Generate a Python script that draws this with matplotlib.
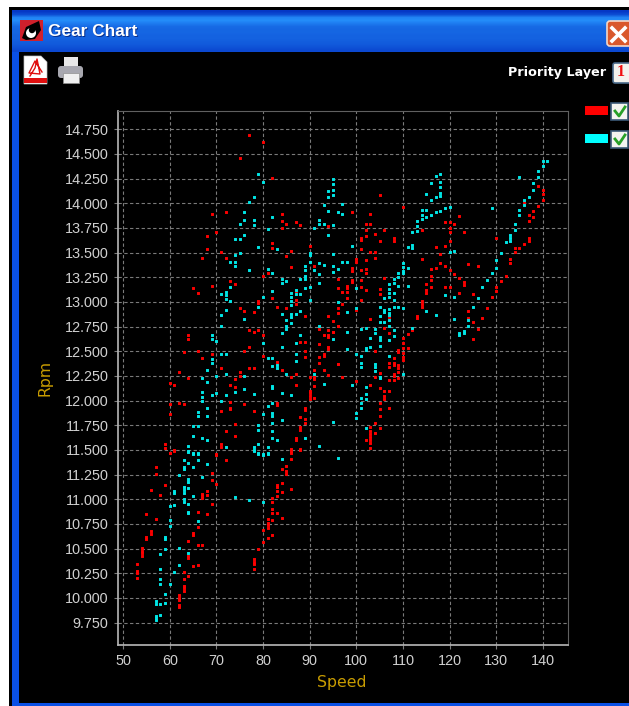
#!/usr/bin/env python3
"""Gear chart window: rpm against speed for two layers, black background."""

import matplotlib
matplotlib.use('Agg')
import matplotlib.pyplot as plt
import numpy as np
from matplotlib.patches import Rectangle, FancyBboxPatch, Polygon, Circle

OUTPUT_FILE = "out.png"
W, H = 629, 706
DPI = 100

COLOR_RED = "#ff0000"
COLOR_CYAN = "#00e8e8"
COLOR_GOLD = "#c89c00"
COLOR_GRID = "#7a7a7a"
COLOR_TICK = "#d0d0d0"

x_ticks = [50, 60, 70, 80, 90, 100, 110, 120, 130, 140]
y_ticks = [9750, 10000, 10250, 10500, 10750, 11000, 11250, 11500, 11750, 12000,
           12250, 12500, 12750, 13000, 13250, 13500, 13750, 14000, 14250, 14500, 14750]
y_labels = ["9.750", "10.000", "10.250", "10.500", "10.750", "11.000", "11.250",
            "11.500", "11.750", "12.000", "12.250", "12.500", "12.750", "13.000",
            "13.250", "13.500", "13.750", "14.000", "14.250", "14.500", "14.750"]

# (speed, rpm)
red_points = [
    (57, 11328), (57, 11257), (56, 11098), (59, 11145), (58, 11044), (55, 10845), (57, 10800),
    (56, 10680), (56, 10645), (55, 10620), (55, 10600), (54, 10503), (54, 10476), (54, 10453),
    (54, 10426), (53, 10348), (53, 10267), (53, 10247), (53, 10206), (63, 10260), (64, 10223),
    (63, 10189), (63, 10122), (63, 10095), (63, 10074), (62, 10027), (62, 10003), (62, 9980),
    (62, 9926), (62, 9905), (65, 10318), (66, 10334), (64, 10426), (64, 10405), (64, 10578),
    (66, 10534), (67, 10534), (65, 10662), (65, 10642), (66, 10716), (66, 10875), (68, 10845),
    (69, 10956), (67, 11057), (67, 11034), (67, 11013), (68, 11084), (68, 11040), (69, 11199),
    (69, 11270), (70, 11159), (70, 11456), (72, 11398), (60, 11470), (61, 11497),
    (78, 10392), (78, 10368), (78, 10341), (78, 10290), (79, 10497), (80, 10571), (81, 10605),
    (80, 10686), (81, 10703), (81, 10736), (81, 10763), (81, 10797), (82, 10642), (82, 10790),
    (84, 10814), (82, 10858), (82, 10905), (83, 10858), (82, 10973), (82, 11013), (83, 11030),
    (83, 11084), (83, 11125), (83, 11145), (84, 11071), (84, 11169), (86, 11101), (85, 11257),
    (85, 11284), (84, 11304), (85, 11341), (86, 11412), (86, 11490), (88, 11506),
    (68, 13537), (71, 13510), (67, 13449), (72, 13449), (82, 13601), (82, 13547), (86, 13520),
    (85, 13466), (90, 13571), (86, 13351), (91, 13368), (80, 13267), (81, 13297), (73, 13209),
    (74, 13182), (69, 13166), (65, 13139), (66, 13095), (87, 13115), (82, 13115), (82, 13041),
    (79, 13014), (79, 12993), (87, 13020), (87, 12976), (83, 12953), (85, 12936), (75, 12936),
    (76, 12912), (78, 12895), (89, 12858), (77, 12713), (78, 12696), (79, 12713), (80, 12666),
    (64, 12669), (64, 12625), (92, 12726), (93, 12669), (94, 12713), (94, 12666), (94, 12642),
    (95, 12696), (94, 12858), (96, 12757), (88, 12598), (89, 12598), (92, 12574), (94, 12547),
    (94, 12527), (77, 12541), (76, 12503), (66, 12503), (63, 12487), (69, 12470), (89, 12507),
    (89, 12446), (80, 12456), (92, 12446), (93, 12470), (93, 12453), (67, 12429), (83, 12389),
    (92, 12385), (96, 12372), (71, 12328), (77, 12328), (78, 12328), (93, 12311), (84, 12311),
    (91, 12311), (75, 12287), (62, 12287), (87, 12270), (86, 12237), (75, 12250), (74, 12216),
    (64, 12230), (90, 12237), (91, 12237), (91, 12216), (94, 12257), (60, 12176), (61, 12155),
    (73, 12155), (74, 12135), (87, 12155), (91, 12149), (90, 12101), (90, 12074), (90, 12041),
    (90, 12014), (91, 12030), (83, 11980), (83, 11950), (76, 11963), (73, 11990), (73, 11929),
    (73, 11912), (62, 11973), (63, 11960), (60, 11963), (60, 11862), (71, 11889), (78, 11889),
    (89, 11929), (89, 11905), (88, 11835), (89, 11814), (89, 11770), (88, 11730), (88, 11703),
    (74, 11760), (72, 11689), (74, 11645), (87, 11618), (87, 11601), (59, 11564), (59, 11517),
    (61, 11493), (60, 11466), (71, 11561), (71, 11527), (70, 11450), (86, 11507), (86, 11473),
    (88, 11500),
    (101, 13625), (105, 13618), (108, 13618), (101, 13534), (103, 13503), (104, 13503),
    (104, 13449), (100, 13432), (100, 13402), (102, 13422), (99, 13348), (99, 13318), (101, 13321),
    (102, 13334), (102, 13290), (96, 13236), (99, 13223), (99, 13206), (101, 13223), (106, 13247),
    (98, 13166), (98, 13139), (98, 13105), (97, 13105), (96, 13139), (101, 13152), (102, 13122),
    (101, 13020), (105, 13135), (105, 13081), (98, 13037), (97, 12980), (96, 12936), (96, 12892),
    (100, 12919), (103, 12828), (95, 12807), (96, 12757), (95, 12696), (107, 12851), (106, 12740),
    (107, 12682), (111, 12676), (112, 12716), (110, 12632), (110, 12588), (110, 12537), (111, 12537),
    (109, 12514), (109, 12487), (104, 12507), (110, 12480), (110, 12446), (110, 12412), (108, 12429),
    (107, 12385), (107, 12338), (108, 12385), (108, 12358), (109, 12362), (109, 12328), (109, 12294),
    (96, 12368), (104, 12243), (105, 12284), (108, 12270), (108, 12250), (107, 12213), (108, 12213),
    (109, 12233), (97, 12237), (100, 12199), (103, 12155), (105, 12132), (106, 12101), (107, 12101),
    (106, 12047), (106, 12020), (105, 11973), (105, 11916), (107, 11929), (105, 11845), (104, 11774),
    (105, 11720), (103, 11730), (103, 11696), (103, 11662), (103, 11628), (103, 11595), (103, 11574),
    (102, 11605), (104, 11676), (103, 11517),
    (114, 13432), (117, 13561), (119, 13568), (120, 13618), (118, 13490), (116, 13334), (117, 13348),
    (118, 13392), (119, 13365), (120, 13324), (121, 13284), (116, 13267), (116, 13223), (115, 13182),
    (116, 13152), (115, 13122), (115, 13095), (119, 13152), (120, 13152), (122, 13247), (123, 13206),
    (123, 13169), (122, 13095), (124, 13388), (126, 13365), (125, 13081), (129, 13051), (114, 13010),
    (114, 12980), (114, 12953), (113, 12861), (113, 12834), (124, 12912), (128, 12939), (124, 12841),
    (125, 12797), (127, 12834), (126, 12730), (125, 12628), (130, 13149), (130, 13112), (131, 13209),
    (132, 13260), (133, 13432), (133, 13392), (134, 13544), (134, 13510), (135, 13544), (136, 13591),
    (137, 13618),
    (77, 14689), (80, 14618), (75, 14463), (82, 14260), (69, 13895), (72, 13909), (84, 13892),
    (84, 13821), (85, 13791), (87, 13811), (88, 13780), (84, 13747), (70, 13709), (68, 13666),
    (105, 14081), (99, 13912), (103, 13895), (110, 13963), (102, 13794), (103, 13794), (94, 13767),
    (102, 13726), (102, 13672), (104, 13692), (106, 13733), (101, 13645), (114, 13726), (119, 13807),
    (120, 13811), (121, 13794), (122, 13868), (120, 13750), (120, 13713), (123, 13706), (140, 14135),
    (140, 14098), (140, 14030), (139, 14179), (139, 13976), (136, 14014), (138, 13922), (138, 13861),
    (137, 13882), (137, 13821), (130, 13645), (137, 13645), (108, 13645),
]

cyan_points = [
    (57, 9818), (57, 9794), (57, 9774), (58, 9828), (57, 9963), (57, 9936), (58, 9936), (59, 9949),
    (59, 10037), (58, 10138), (58, 10189), (60, 10138), (58, 10294), (61, 10263), (62, 10331),
    (58, 10446), (59, 10490), (62, 10507), (64, 10459), (59, 10618), (59, 10601), (60, 10733),
    (60, 10790), (66, 10774), (64, 10870), (64, 10858), (60, 10926), (61, 10942), (64, 10956),
    (63, 11000), (63, 10973), (65, 11030), (63, 11128), (63, 11094), (63, 11060), (61, 11088),
    (61, 11067), (64, 11115), (64, 11203), (64, 11176), (62, 11250), (67, 11226), (63, 11398),
    (63, 11331), (63, 11311), (64, 11368), (65, 11328), (66, 11398), (68, 11355), (64, 11486),
    (65, 11466), (66, 11466), (74, 11027), (77, 10990), (80, 10973), (84, 11412), (78, 11496),
    (79, 11470), (80, 11456), (81, 11470), (96, 11420),
    (79, 13554), (83, 13537), (90, 13493), (90, 13480), (95, 13483), (75, 13493), (74, 13480),
    (73, 13409), (74, 13409), (74, 13365), (77, 13324), (90, 13405), (89, 13365), (89, 13324),
    (92, 13392), (93, 13378), (91, 13321), (95, 13365), (95, 13307), (96, 13334), (92, 13280),
    (81, 13334), (82, 13290), (89, 13267), (89, 13230), (88, 13230), (92, 13196), (84, 13230),
    (84, 13196), (85, 13209), (73, 13152), (90, 13149), (89, 13139), (87, 13122), (86, 13095),
    (88, 13081), (82, 13108), (72, 13101), (72, 13071), (72, 13034), (71, 13078), (73, 13010),
    (80, 13054), (90, 13024), (86, 13047), (86, 13014), (86, 12970), (87, 13078), (96, 12997),
    (79, 12953), (72, 12922), (71, 12872), (76, 12828), (84, 12878), (86, 12878), (86, 12851),
    (87, 12882), (88, 12912), (85, 12814), (86, 12784), (85, 12757), (85, 12723), (84, 12682),
    (92, 12757), (71, 12757), (69, 12669), (69, 12625), (70, 12608), (80, 12581), (88, 12669),
    (87, 12585), (84, 12541), (71, 12470), (72, 12470), (69, 12419), (69, 12385), (81, 12429),
    (82, 12429), (87, 12470), (87, 12399), (68, 12314), (82, 12355), (83, 12362), (83, 12328),
    (72, 12270), (70, 12247), (67, 12233), (68, 12186), (85, 12270), (91, 12270), (76, 12253),
    (93, 12172), (82, 12149), (82, 12129), (76, 12115), (74, 12085), (67, 12091), (70, 12074),
    (69, 12061), (72, 12061), (78, 12071), (84, 12074), (86, 12061), (67, 12034), (67, 12000),
    (71, 12000), (82, 11973), (81, 11946), (68, 11929), (66, 11879), (66, 11845), (68, 11845),
    (80, 11862), (82, 11872), (82, 11845), (84, 11807), (82, 11777), (95, 11784), (65, 11743),
    (66, 11743), (79, 11750), (79, 11703), (65, 11645), (67, 11622), (68, 11605), (82, 11693),
    (82, 11618), (83, 11601), (89, 11618), (64, 11540), (72, 11534), (78, 11534), (78, 11493),
    (79, 11561), (81, 11534), (92, 11544), (64, 11476), (65, 11460), (66, 11460), (79, 11460),
    (80, 11446), (81, 11460),
    (99, 13564), (111, 13557), (112, 13578), (112, 13544), (132, 13605), (133, 13618), (131, 13493),
    (120, 13503), (121, 13517), (97, 13409), (98, 13409), (110, 13392), (110, 13358), (110, 13318),
    (110, 13290), (111, 13348), (109, 13290), (109, 13250), (108, 13230), (108, 13196), (107, 13182),
    (109, 13166), (111, 13166), (100, 13139), (107, 13128), (107, 13095), (108, 13095), (106, 13037),
    (107, 13047), (108, 13024), (105, 12953), (106, 12919), (106, 12895), (107, 12926), (107, 12892),
    (107, 12868), (108, 12946), (109, 12946), (110, 12939), (98, 12895), (100, 12936), (105, 12861),
    (107, 12818), (105, 12794), (106, 12797), (107, 12757), (102, 12740), (101, 12726), (104, 12723),
    (104, 12682), (98, 12696), (95, 12625), (108, 12713), (107, 12615), (108, 12655), (103, 12639),
    (105, 12649), (105, 12615), (102, 12537), (102, 12514), (103, 12541), (105, 12551), (98, 12527),
    (100, 12470), (101, 12456), (107, 12453), (101, 12385), (101, 12345), (104, 12368), (104, 12345),
    (104, 12297), (105, 12243), (105, 12226), (110, 12270), (99, 12159), (102, 12142), (102, 12071),
    (101, 12027), (102, 12014), (101, 11973), (101, 11926), (100, 11875), (100, 11828), (102, 11720),
    (112, 12737), (115, 12912), (117, 12868), (119, 13068), (121, 13051), (126, 13037), (125, 12953),
    (121, 12828), (124, 12818), (124, 12757), (123, 12709), (123, 12682), (122, 12682), (122, 12665),
    (127, 13149), (128, 13223), (129, 13290), (130, 13426), (130, 13348),
    (79, 14294), (80, 14220), (78, 14064), (77, 14010), (76, 13909), (75, 13794), (76, 13834),
    (78, 13834), (78, 13780), (82, 13865), (81, 13740), (91, 13750), (92, 13834), (92, 13794),
    (76, 13679), (74, 13642), (75, 13642),
    (95, 14250), (95, 14196), (94, 14122), (95, 14135), (95, 14088), (94, 14064), (93, 13986),
    (97, 13993), (94, 13922), (96, 13909), (97, 13895), (93, 13794), (95, 13780), (94, 13679),
    (117, 14280), (118, 14294), (116, 14206), (118, 14220), (118, 14165), (115, 14091), (118, 14105),
    (118, 14078), (117, 14064), (116, 14034), (120, 13966), (119, 13949), (118, 13922), (117, 13909),
    (116, 13885), (115, 13865), (114, 13936), (115, 13936), (114, 13885), (114, 13838), (113, 13824),
    (113, 13767), (113, 13723), (112, 13710), (129, 13953), (135, 14263), (139, 14331), (139, 14263),
    (140, 14432), (141, 14432), (140, 14378), (138, 14206), (138, 14135), (137, 14064), (136, 14030),
    (136, 13983), (135, 13936), (135, 13878), (134, 13794), (134, 13733), (133, 13682), (133, 13645),
]


def draw_window(c):
    """Window frame, title bar and toolbar, in pixel coordinates."""
    c.add_patch(Rectangle((0, 0), W, H, fc='white', ec='none'))
    c.add_patch(Rectangle((9, 7), W - 9, H - 7, fc='black', ec='none'))

    # blue frame
    c.add_patch(Rectangle((12, 10), W - 12, H - 10, fc='#0a50e6', ec='none'))
    grad = np.array([0.0, 0.25, 0.9, 1.0, 0.8, 0.6, 0.55, 0.55, 0.5, 0.5, 0.45, 0.4, 0.3, 0.2]).reshape(-1, 1)
    grad_rgb = np.zeros((len(grad), 1, 3))
    grad_rgb[..., 0] = 0.02 + 0.12 * grad
    grad_rgb[..., 1] = 0.22 + 0.33 * grad
    grad_rgb[..., 2] = 0.78 + 0.20 * grad
    c.imshow(grad_rgb, extent=(12, W, 52, 10), aspect='auto', zorder=1, interpolation='bilinear')
    c.add_patch(Rectangle((19, 52), W - 19, 651, fc='black', ec='none', zorder=2))

    # app icon
    c.add_patch(Rectangle((20, 20), 23, 21, fc='#d0202c', ec='none', zorder=3))
    c.add_patch(Polygon([(22, 38), (26, 27), (39, 21), (41, 30), (35, 39), (26, 40)],
                        fc='black', ec='none', zorder=4))
    c.add_patch(Circle((31, 33), 5, fc='white', ec='none', zorder=5))
    c.add_patch(Circle((32, 30), 3.2, fc='black', ec='none', zorder=6))

    # title, with a small shadow
    c.text(48.8, 32.3, "Gear Chart", color='#08308c', fontsize=12.4, family='Liberation Sans',
           fontweight='bold', va='center', zorder=6)
    c.text(48, 31.5, "Gear Chart", color='white', fontsize=12.4, family='Liberation Sans',
           fontweight='bold', va='center', zorder=7)

    # close button
    c.add_patch(FancyBboxPatch((607, 21), 30, 25, boxstyle="round,pad=0,rounding_size=3",
                               fc='#d9582c', ec='#f4d8c8', lw=1.2, zorder=3))
    c.plot([612, 625], [28, 41], color='white', lw=2.6, zorder=4)
    c.plot([625, 612], [28, 41], color='white', lw=2.6, zorder=4)

    # pdf icon
    c.add_patch(Polygon([(24, 56), (41, 56), (47, 62), (47, 84), (24, 84)],
                        fc='white', ec='#c0c0c0', lw=0.5, zorder=3))
    c.add_patch(Rectangle((24, 78), 23, 5, fc='#e01010', ec='none', zorder=4))
    c.plot([30, 35, 37, 40, 29, 35, 42], [76, 68, 59, 74, 73, 61, 72], color='#e01010', lw=1.0, zorder=4)

    # printer icon
    c.add_patch(Rectangle((64, 57), 14, 10, fc='#e8e8e8', ec='none', zorder=3))
    c.add_patch(FancyBboxPatch((58, 66), 25, 12, boxstyle="round,pad=0,rounding_size=3",
                               fc='#a8a8b0', ec='none', zorder=4))
    c.add_patch(Rectangle((63, 73), 16, 10, fc='#f0f0f0', ec='#909090', lw=0.5, zorder=5))

    # priority layer
    c.text(606, 72.5, "Priority Layer", color='white', fontsize=9.2, fontweight='bold',
           family='DejaVu Sans', ha='right', va='center', zorder=5)
    c.add_patch(FancyBboxPatch((613, 63), 20, 20, boxstyle="round,pad=0,rounding_size=2",
                               fc='#f4f2ec', ec='#4a6a8a', lw=1.2, zorder=3))
    c.text(620.5, 72.5, "1", color='#f01010', fontsize=11.5, fontweight='bold',
           family='Liberation Serif', ha='center', va='center', zorder=5)

    # layer switches
    for y0, col in ((106, '#ff0000'), (134, '#00ffff')):
        c.add_patch(Rectangle((585, y0), 23, 9, fc=col, ec='none', zorder=3))
        c.add_patch(Rectangle((611, y0 - 3), 17, 17, fc='#f4f4f0', ec='#3c5a78', lw=1.2, zorder=3))
        c.plot([615, 619, 625], [y0 + 5, y0 + 10, y0 + 1], color='#28a028', lw=2.0, zorder=4)


def main():
    fig = plt.figure(figsize=(W / DPI, H / DPI), dpi=DPI, facecolor='white')

    chrome = fig.add_axes([0, 0, 1, 1])
    chrome.set_axis_off()
    draw_window(chrome)
    chrome.set_xlim(0, W)
    chrome.set_ylim(H, 0)

    # plot box in pixels: left 117.5, right 568, top 111, bottom 644.5
    ax = fig.add_axes([117.5 / W, 1 - 644.5 / H, (568 - 117.5) / W, (644.5 - 111) / H])
    ax.set_facecolor('black')
    ax.set_xlim(48.8, 145.4)
    ax.set_ylim(9527, 14935)

    r = np.array(red_points)
    b = np.array(cyan_points)
    ax.scatter(r[:, 0], r[:, 1], s=4.4, marker='s', color=COLOR_RED, linewidths=0, zorder=3, snap=False)
    ax.scatter(b[:, 0], b[:, 1], s=4.4, marker='s', color=COLOR_CYAN, linewidths=0, zorder=4, snap=False)

    ax.set_xticks(x_ticks)
    ax.set_yticks(y_ticks)
    ax.set_yticklabels(y_labels)
    ax.grid(True, color=COLOR_GRID, linewidth=0.8, linestyle=(0, (3, 2.2)), zorder=1)
    ax.set_axisbelow(True)
    ax.tick_params(colors=COLOR_TICK, length=3, width=0.8, color=COLOR_GRID, pad=3.5,
                   labelsize=10.4, labelfontfamily='Liberation Sans')

    ax.spines['left'].set_color('#b8b8b8')
    ax.spines['bottom'].set_color('#b8b8b8')
    ax.spines['left'].set_linewidth(1.2)
    ax.spines['bottom'].set_linewidth(1.2)
    ax.spines['top'].set_color('#606060')
    ax.spines['right'].set_color('#606060')

    chrome.text(342, 683, "Speed", color=COLOR_GOLD, fontsize=11.3, ha='center', va='center')
    chrome.text(45, 378, "Rpm", color=COLOR_GOLD, fontsize=11.3, rotation=90, ha='center', va='center')

    fig.savefig(OUTPUT_FILE, dpi=DPI, facecolor='white')


if __name__ == "__main__":
    main()
